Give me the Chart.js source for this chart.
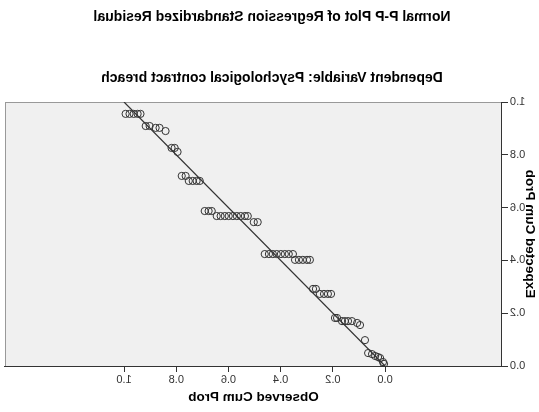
<!DOCTYPE html>
<html>
<head>
<meta charset="utf-8">
<script src="https://cdn.jsdelivr.net/npm/chart.js@4/dist/chart.umd.min.js"></script>
<style>
  html, body { margin: 0; padding: 0; background: #fff; }
  #wrap { width: 539px; height: 412px; transform: scaleX(-1); }
</style>
</head>
<body>
<div id="wrap"><canvas id="ppChart" width="539" height="412"></canvas></div>
<script>
// observed cumulative probability (x) and expected cumulative probability (y)
const observed = [
  0.994, 0.979, 0.963, 0.948, 0.937,
  0.917, 0.902, 0.879, 0.864, 0.841,
  0.818, 0.806, 0.795,
  0.779, 0.764, 0.752, 0.737, 0.722, 0.710,
  0.691, 0.676, 0.664, 0.645, 0.630, 0.614, 0.599, 0.583, 0.568, 0.553, 0.537, 0.526, 0.503, 0.488,
  0.461, 0.445, 0.430, 0.415, 0.399, 0.384, 0.369, 0.353, 0.345, 0.330, 0.315, 0.299, 0.288,
  0.276, 0.265, 0.250, 0.234, 0.219, 0.207,
  0.192, 0.184, 0.165, 0.154, 0.142, 0.127, 0.107, 0.096,
  0.077, 0.065, 0.050, 0.038, 0.027, 0.019, 0.008, 0.004
];
const expected = [
  0.955, 0.955, 0.955, 0.955, 0.955,
  0.909, 0.909, 0.902, 0.902, 0.890,
  0.826, 0.826, 0.811,
  0.720, 0.720, 0.701, 0.701, 0.701, 0.701,
  0.587, 0.587, 0.587, 0.568, 0.568, 0.568, 0.568, 0.568, 0.568, 0.568, 0.568, 0.568, 0.545, 0.545,
  0.424, 0.424, 0.424, 0.424, 0.424, 0.424, 0.424, 0.424, 0.402, 0.402, 0.402, 0.402, 0.402,
  0.292, 0.292, 0.273, 0.273, 0.273, 0.273,
  0.182, 0.182, 0.170, 0.170, 0.170, 0.170, 0.163, 0.155,
  0.098, 0.049, 0.045, 0.038, 0.034, 0.030, 0.015, 0.008
];
const diagonal = [0, 1];
const tickValues = [0, 0.2, 0.4, 0.6, 0.8, 1.0];

const fontFamily = "'Liberation Sans', Arial, sans-serif";

const plotBackground = {
  id: "plotBackground",
  beforeDraw(chart) {
    const { ctx, chartArea: a } = chart;
    ctx.save();
    ctx.fillStyle = "#f0f0f0";
    ctx.fillRect(a.left, a.top, a.right - a.left, a.bottom - a.top);
    ctx.strokeStyle = "#999";
    ctx.lineWidth = 1;
    ctx.strokeRect(a.left + 0.5, a.top + 0.5, a.right - a.left - 1, a.bottom - a.top);
    ctx.restore();
  },
};

function fixedTicks(scale) {
  scale.ticks = tickValues.map((v) => ({ value: v }));
}

document.addEventListener("DOMContentLoaded", function () {
  const ctx = document.getElementById("ppChart").getContext("2d");
  new Chart(ctx, {
    type: "scatter",
    data: {
      datasets: [
        {
          label: "Points",
          data: observed.map((x, i) => ({ x: x, y: expected[i] })),
          pointStyle: "circle",
          pointRadius: 3.6,
          borderColor: "#333",
          backgroundColor: "rgba(0,0,0,0)",
          borderWidth: 1,
        },
        {
          type: "line",
          label: "Diagonal",
          data: diagonal.map((v) => ({ x: v, y: v })),
          borderColor: "#333",
          borderWidth: 1.2,
          pointRadius: 0,
          fill: false,
        },
      ],
    },
    options: {
      responsive: false,
      animation: false,
      layout: { padding: { left: 0, right: 5, top: 0, bottom: 0 } },
      plugins: {
        legend: { display: false },
        tooltip: { enabled: false },
        title: {
          display: true,
          text: "Normal P-P Plot of Regression Standardized Residual",
          color: "#000",
          font: { family: fontFamily, size: 14, weight: "bold" },
          padding: { top: 8.6, bottom: 44.2 },
        },
        subtitle: {
          display: true,
          text: "Dependent Variable: Psychological contract breach",
          color: "#000",
          font: { family: fontFamily, size: 14, weight: "bold" },
          padding: { top: 0, bottom: 15.6 },
        },
      },
      scales: {
        x: {
          type: "linear",
          min: -0.448,
          max: 1.456,
          afterBuildTicks: fixedTicks,
          afterFit(scale) { scale.height = 46; },
          border: { display: true, color: "#333", width: 1 },
          grid: { display: true, drawOnChartArea: false, drawTicks: true, tickLength: 6, color: "#333" },
          ticks: {
            padding: 1,
            color: "#333",
            font: { family: fontFamily, size: 11 },
            callback: (v) => Number(v).toFixed(1),
          },
          title: {
            display: true,
            text: "Observed Cum Prob",
            color: "#000",
            font: { family: fontFamily, size: 13.5, weight: "bold" },
            padding: { top: 0, bottom: 6.9 },
          },
        },
        y: {
          type: "linear",
          min: 0,
          max: 1,
          afterBuildTicks: fixedTicks,
          afterFit(scale) { scale.width = 37; },
          border: { display: true, color: "#333", width: 1 },
          grid: { display: true, drawOnChartArea: false, drawTicks: true, tickLength: 6, color: "#333" },
          ticks: {
            padding: 2,
            color: "#333",
            font: { family: fontFamily, size: 11 },
            callback: (v) => Number(v).toFixed(1),
          },
          title: {
            display: true,
            text: "Expected Cum Prob",
            color: "#000",
            font: { family: fontFamily, size: 13.5, weight: "bold" },
            padding: { top: 1, bottom: 0 },
          },
        },
      },
    },
    plugins: [plotBackground],
  });
});
</script>
</body>
</html>
